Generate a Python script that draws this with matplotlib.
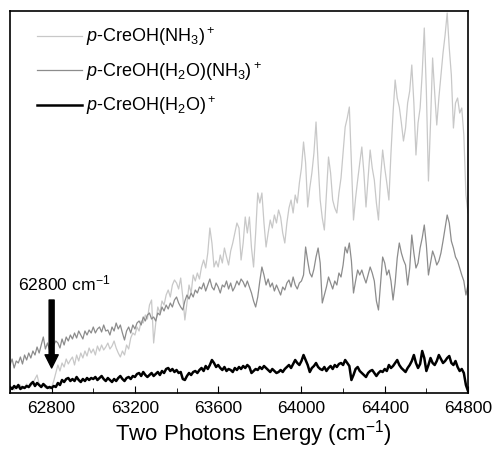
import numpy as np
import matplotlib
matplotlib.use("Agg")
import matplotlib.pyplot as plt
from matplotlib.ticker import MultipleLocator

plt.rcParams['font.family'] = ['Liberation Sans', 'DejaVu Sans']
plt.rcParams['mathtext.fontset'] = 'custom'
plt.rcParams['mathtext.rm'] = 'Liberation Sans'
plt.rcParams['mathtext.it'] = 'Liberation Sans:italic'

energy = np.arange(62600, 64801, 10)

nh3 = [4, 6, 3, 7, 5, 8, 4, 6, 9, 5,
       7, 10, 14, 18, 9, 6, 8, 5, 7, 4,
       6, 12, 20, 28, 22, 30, 26, 34, 29, 33,
       36, 28, 38, 32, 40, 35, 42, 37, 45, 40,
       44, 38, 47, 42, 48, 43, 46, 50, 44, 47,
       52, 45, 40, 36, 42, 38, 48, 44, 55, 60,
       58, 66, 62, 72, 70, 78, 74, 88, 93, 50,
       70, 86, 80, 92, 88, 98, 103, 96, 108, 113,
       110, 104, 115, 96, 73, 90, 108, 100, 118, 112,
       120, 114, 126, 133, 125, 140, 165, 150, 126, 132,
       126, 138, 130, 145, 136, 128, 142, 150, 160, 170,
       165, 133, 150, 176, 160, 176, 145, 126, 160, 200,
       190, 200, 170, 146, 160, 173, 165, 178, 170, 183,
       176, 160, 150, 170, 185, 193, 180, 198, 190, 210,
       225, 251, 230, 186, 205, 220, 240, 271, 230, 193,
       175, 163, 200, 236, 220, 193, 185, 180, 200, 215,
       240, 266, 275, 286, 230, 173, 195, 213, 230, 246,
       220, 186, 215, 243, 225, 213, 190, 173, 215, 243,
       225, 210, 193, 240, 280, 313, 295, 286, 270, 252,
       265, 290, 302, 328, 290, 238, 270, 285, 320, 365,
       302, 212, 270, 335, 300, 268, 295, 318, 340, 358,
       380, 345, 318, 265, 290, 295, 280, 285, 258, 198, 180]

h2o_nh3 = [28, 34, 25, 32, 30, 36, 29, 38, 33, 40,
           35, 42, 38, 46, 40, 48, 56, 44, 50, 43,
           38, 48, 52, 50, 45, 54, 48, 56, 52, 58,
           54, 60, 55, 62, 58, 54, 62, 58, 63, 60,
           66, 60, 64, 66, 61, 68, 62, 63, 58, 66,
           62, 70, 64, 68, 60, 53, 62, 66, 60, 68,
           64, 70, 72, 68, 76, 72, 78, 80, 74, 76,
           72, 80, 78, 86, 82, 88, 84, 90, 86, 93,
           96, 90, 86, 83, 92, 98, 94, 100, 96, 103,
           100, 106, 104, 110, 102, 108, 114, 106, 103, 110,
           106, 100, 108, 106, 112, 104, 110, 102, 106, 112,
           108, 114, 111, 106, 112, 106, 100, 92, 86, 96,
           112, 126, 118, 108, 114, 106, 110, 102, 108, 103,
           98, 106, 103, 110, 113, 106, 116, 108, 104, 110,
           112, 118, 146, 132, 120, 116, 124, 136, 145, 130,
           90, 98, 106, 116, 110, 104, 112, 108, 120, 116,
           128, 146, 140, 150, 132, 100, 112, 123, 118, 123,
           116, 110, 118, 126, 120, 112, 92, 83, 110, 136,
           130, 118, 123, 112, 93, 110, 135, 150, 140, 133,
           128, 108, 125, 158, 140, 125, 130, 145, 155, 168,
           148, 118, 130, 142, 136, 128, 132, 140, 152, 165,
           178, 170, 152, 145, 136, 132, 125, 118, 112, 98, 108]

h2o = [6, 4, 7, 5, 8, 4, 6, 5, 7, 6,
       9, 11, 7, 10, 8, 6, 9, 7, 5, 6,
       5, 7, 6, 10, 8, 13, 11, 14, 15, 12,
       14, 12, 16, 13, 11, 14, 12, 15, 13, 15,
       14, 16, 13, 15, 17, 14, 12, 15, 13, 11,
       14, 12, 15, 17, 14, 12, 15, 16, 14, 17,
       16, 19, 20, 17, 21, 18, 16, 18, 20, 17,
       19, 21, 18, 22, 20, 24, 25, 22, 24, 21,
       23, 20, 21, 14, 13, 17, 20, 18, 21, 22,
       20, 23, 25, 22, 27, 24, 28, 33, 30, 26,
       28, 25, 23, 26, 22, 24, 23, 21, 25, 23,
       26, 24, 27, 25, 28, 26, 20, 22, 24, 23,
       26, 24, 27, 25, 23, 21, 24, 22, 20, 21,
       23, 21, 24, 26, 28, 25, 29, 33, 30, 28,
       32, 38, 33, 28, 21, 25, 27, 30, 26, 24,
       23, 26, 22, 25, 27, 24, 28, 26, 29, 30,
       28, 33, 30, 27, 13, 18, 24, 26, 22, 20,
       18, 16, 20, 22, 23, 20, 17, 20, 22, 21,
       24, 22, 28, 25, 27, 30, 33, 28, 25, 23,
       21, 25, 28, 32, 38, 30, 25, 29, 42, 35,
       22, 28, 35, 30, 28, 32, 38, 34, 30, 32,
       35, 37, 30, 28, 32, 26, 22, 24, 20, 8, 2]

labels = [r'$p$-CreOH(NH$_3$)$^+$',
          r'$p$-CreOH(H$_2$O)(NH$_3$)$^+$',
          r'$p$-CreOH(H$_2$O)$^+$']
xticks = [62800, 63200, 63600, 64000, 64400, 64800]

fig = plt.figure(figsize=(4.94, 4.58), dpi=100)
ax = fig.add_axes([10/494, 65/458, 458/494, 382/458])

ax.plot(energy, nh3, color='#c8c8c8', lw=0.9, label=labels[0])
ax.plot(energy, h2o_nh3, color='#8c8c8c', lw=0.9, label=labels[1])
ax.plot(energy, h2o, color='black', lw=1.8, label=labels[2])

ax.set_xlim(62600, 64800)
ax.set_ylim(0, 382)
ax.set_xticks(xticks)
ax.xaxis.set_minor_locator(MultipleLocator(200))
ax.set_yticks([])
ax.tick_params(axis='x', which='major', direction='in', length=5, labelsize=12.5, pad=6)
ax.tick_params(axis='x', which='minor', direction='in', length=3.5)
for s in ax.spines.values():
    s.set_linewidth(1.2)

ax.set_xlabel('Two Photons Energy (cm$^{-1}$)', fontsize=16, labelpad=3)
ax.xaxis.set_label_coords((253.5 - 10) / 458, -0.065)

leg = ax.legend(loc='upper left', frameon=False, fontsize=13,
                handlelength=2.5, handletextpad=0.2, labelspacing=0.65,
                bbox_to_anchor=(27/458, 0.962), borderaxespad=0, borderpad=0)

ax.annotate('', xy=(62800, 25), xytext=(62800, 93),
            arrowprops=dict(facecolor='black', edgecolor='black', width=3.6,
                            headwidth=9.5, headlength=9.5, shrink=0))
ax.text(62860, 100, '62800 cm$^{-1}$', fontsize=12.6, ha='center', va='bottom')

fig.savefig('out.png', dpi=100)
